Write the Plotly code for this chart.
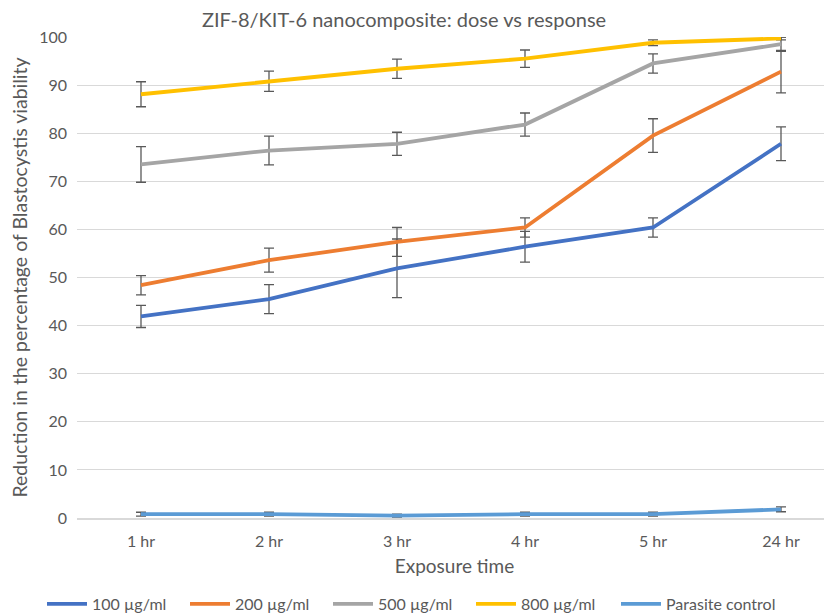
import plotly.graph_objects as go

categories = ["1 hr", "2 hr", "3 hr", "4 hr", "5 hr", "24 hr"]
series_names = ["100 µg/ml", "200 µg/ml", "500 µg/ml", "800 µg/ml", "Parasite control"]
v100 = [41.9, 45.5, 51.9, 56.4, 60.4, 77.8]
e100 = [2.3, 3.0, 6.1, 3.2, 2.0, 3.5]
v200 = [48.4, 53.6, 57.4, 60.4, 79.5, 92.8]
e200 = [2.0, 2.5, 3.0, 2.0, 3.5, 4.4]
v500 = [73.5, 76.4, 77.8, 81.8, 94.5, 98.5]
e500 = [3.7, 3.0, 2.4, 2.4, 2.0, 1.5]
v800 = [88.1, 90.8, 93.4, 95.5, 98.8, 99.7]
e800 = [2.6, 2.1, 2.0, 1.8, 0.6, 0.3]
vctl = [0.8, 0.8, 0.5, 0.8, 0.8, 1.8]
ectl = [0.4, 0.4, 0.3, 0.4, 0.4, 0.5]
colors = ["#4472C4", "#ED7D31", "#A5A5A5", "#FFC000", "#5B9BD5"]

values = [v100, v200, v500, v800, vctl]
errors = [e100, e200, e500, e800, ectl]
legend_ids = ["legend", "legend", "legend", "legend", "legend2"]

# page body has an 8px margin, so the figure is drawn 8px right/down
W, H = 824, 606
FONT = "Lato, Liberation Sans, sans-serif"
fig = go.Figure()
for name, v, e, c, lg in zip(series_names, values, errors, colors, legend_ids):
    fig.add_trace(go.Scatter(
        x=categories, y=v, name=name, mode="lines", legend=lg,
        line=dict(color=c, width=3.8),
        error_y=dict(type="data", array=e, visible=True, color="#595959", thickness=1.3, width=5),
    ))

legend_common = dict(orientation="h", xref="container", yref="container",
                     xanchor="left", y=1 - 596 / H, yanchor="middle",
                     font=dict(size=16, color="#595959"), itemwidth=40,
                     tracegroupgap=0, bgcolor="rgba(0,0,0,0)")

fig.update_layout(
    width=W, height=H,
    margin=dict(l=69, r=0, t=29, b=96, autoexpand=False),
    paper_bgcolor="white", plot_bgcolor="white",
    font=dict(family=FONT, color="#595959", size=15),
    title=dict(text="ZIF-8/KIT-6 nanocomposite: dose vs response", x=396 / W, xanchor="center",
               y=1 - 12 / H, yanchor="middle", font=dict(size=20, color="#595959")),
    showlegend=True,
    legend=dict(x=34 / W, entrywidth=88, **legend_common),
    legend2=dict(x=608 / W, **legend_common),
)
fig.update_xaxes(type="category", range=[-0.5, -0.5 + (W - 69) / 128], showgrid=False, showline=True,
                 linecolor="#D9D9D9", linewidth=1.5, ticks="", tickfont=dict(size=16),
                 ticklabelstandoff=8, automargin=False,
                 title=dict(text="Exposure time", font=dict(size=19), standoff=11))
fig.update_yaxes(range=[0, 100], dtick=10, showgrid=True, gridcolor="#D9D9D9", gridwidth=1,
                 zeroline=False, ticks="", tickfont=dict(size=16), automargin=False,
                 ticklabelstandoff=9,
                 title=dict(text="Reduction in the percentage of Blastocystis viability",
                            font=dict(size=19.5), standoff=8))

fig.write_html("out.html")
